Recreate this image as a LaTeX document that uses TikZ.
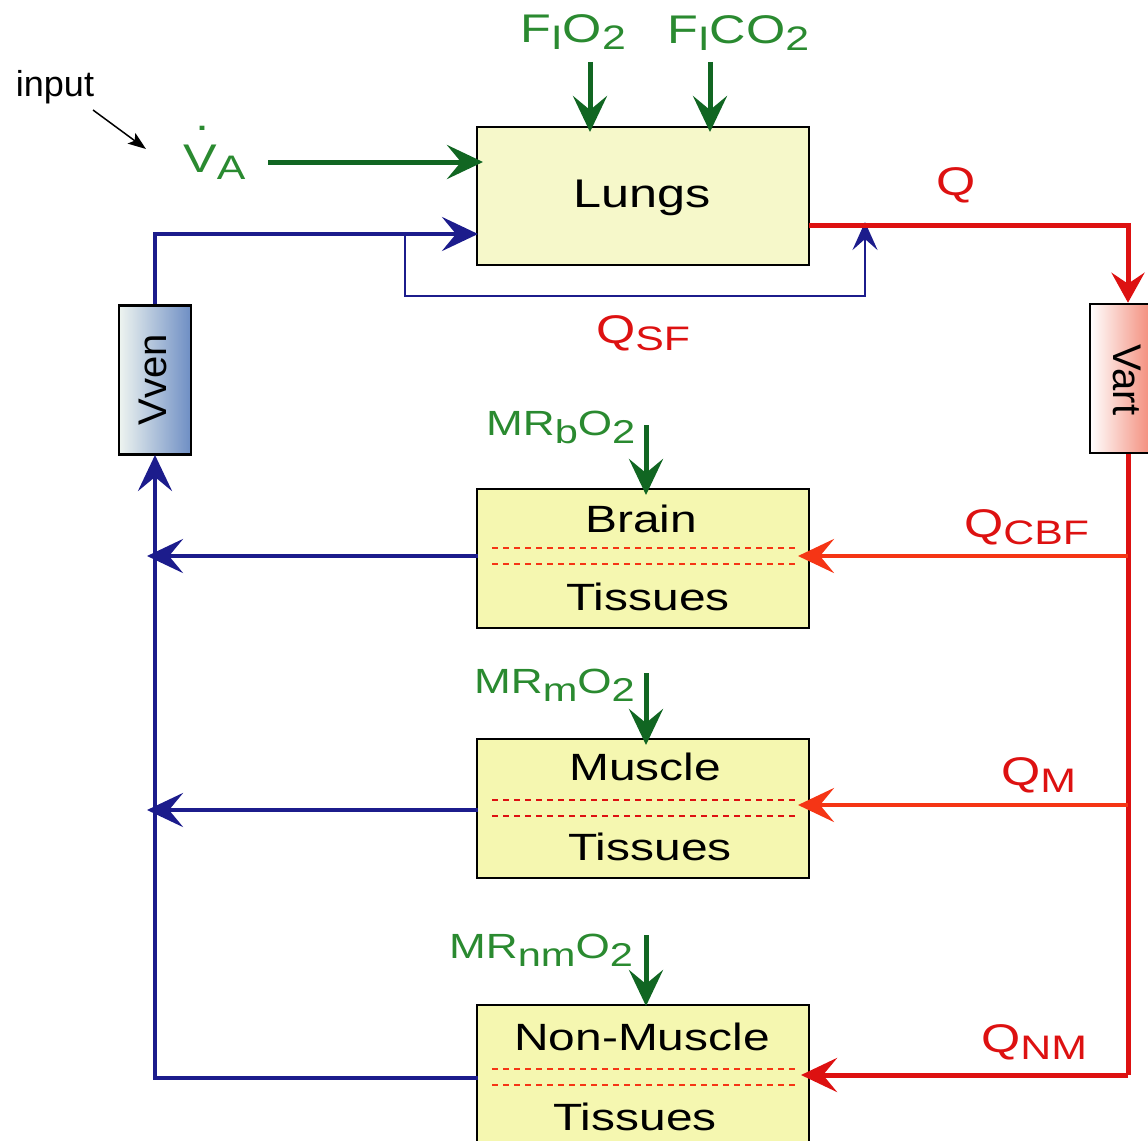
\documentclass[tikz,border=0pt]{standalone}
\usepackage{fontspec}
\setmainfont[FakeStretch=1.26]{Liberation Sans}
\newfontfamily\plainsans{Liberation Sans}
\usetikzlibrary{arrows.meta}
\definecolor{txtgreen}{RGB}{42,138,48}
\definecolor{arrgreen}{RGB}{17,102,34}
\definecolor{navy}{RGB}{28,28,140}
\definecolor{mainred}{RGB}{221,17,17}
\definecolor{orred}{RGB}{245,53,21}
\definecolor{lungfill}{RGB}{246,248,202}
\definecolor{tisfill}{RGB}{245,247,176}
\definecolor{venL}{RGB}{238,244,240}
\definecolor{venM}{RGB}{214,226,232}
\definecolor{venR}{RGB}{110,142,196}
\definecolor{artM}{RGB}{252,214,206}
\definecolor{artR}{RGB}{240,112,90}
\newcommand\lsub[1]{\raisebox{-7pt}{\fontsize{34}{34}\selectfont #1}}
\newcommand\msub[1]{\raisebox{-8pt}{\fontsize{33}{33}\selectfont #1}}
\tikzset{
  arr/.style={-{Stealth[length=36pt,width=34pt,inset=14pt]}},
  organ/.style={draw=black, line width=2.5pt, minimum width=332pt, inner sep=0pt},
  boxtext/.style={inner sep=0pt, anchor=base, font=\fontsize{38}{40}\selectfont},
  glabel/.style={inner sep=0pt, anchor=base west, text=txtgreen},
  rlabel/.style={inner sep=0pt, anchor=base west, text=mainred, font=\fontsize{40}{44}\selectfont},
  gline/.style={draw=arrgreen, line width=5pt, arr},
  bline/.style={draw=navy, line width=4.5pt},
  rline/.style={draw=mainred, line width=5pt},
  oline/.style={draw=orred, line width=4.5pt},
  dline/.style={draw=orred, line width=1.5pt, dash pattern=on 6pt off 5pt},
}
\begin{document}
\begin{tikzpicture}[x=1pt,y=-1pt]
\useasboundingbox (0,0) rectangle (1148,1140);
\clip (0,0) rectangle (1148,1140);

% ---- organ boxes
\node[organ, fill=lungfill, minimum height=138pt] (lungs) at (643,196) {};
\node[organ, fill=tisfill, minimum height=139pt] (brain) at (643,558.5) {};
\node[organ, fill=tisfill, minimum height=139pt] (muscle) at (643,808.5) {};
\node[organ, fill=tisfill, minimum height=150pt] (nonmuscle) at (643,1080) {};

\node[boxtext, font=\fontsize{40}{44}\selectfont] (lungstxt) at (642,207) {Lungs};
\node[boxtext] (braintxt) at (641,532) {Brain};
\node[boxtext] (braintis) at (648,610) {Tissues};
\node[boxtext] (muscletxt) at (645,780) {Muscle};
\node[boxtext] (muscletis) at (650,860) {Tissues};
\node[boxtext] (nmtxt) at (642,1050) {Non-Muscle};
\node[boxtext] (nmtis) at (635,1130) {Tissues};

% dashed separators
\draw[dline] (492,548) -- (795,548);
\draw[dline] (492,564) -- (795,564);
\draw[dline, draw=mainred] (492,800) -- (795,800);
\draw[dline, draw=mainred] (492,816) -- (795,816);
\draw[dline] (492,1069) -- (795,1069);
\draw[dline] (492,1085) -- (795,1085);

% ---- volume boxes
\node[draw=black, line width=2.5pt, minimum width=72pt, minimum height=149pt,
      left color=venL, middle color=venM, right color=venR, inner sep=0pt] (vven) at (155,380) {};
\node[rotate=90, inner sep=0pt, font=\plainsans\fontsize{40}{42}\selectfont] (vventxt) at (153,380) {Vven};
\node[draw=black, line width=2.5pt, minimum width=76pt, minimum height=149pt,
      left color=white, middle color=artM, right color=artR, inner sep=0pt] (vart) at (1128,378.5) {};
\node[rotate=-90, inner sep=0pt, font=\plainsans\fontsize{40}{42}\selectfont] (varttxt) at (1127,380) {Vart};

% ---- labels
\node[inner sep=0pt, font=\plainsans\fontsize{36}{38}\selectfont] (input) at (55,87) {input};
\node[glabel, font=\fontsize{40}{44}\selectfont] (va) at (183,172)
  {\makebox[0pt][l]{\hspace{12pt}\raisebox{42pt}{.}}V\lsub{A}};
\node[glabel, font=\fontsize{40}{44}\selectfont] (fio2) at (520,43) {F\lsub{I}O\lsub{2}};
\node[glabel, font=\fontsize{40}{44}\selectfont] (fico2) at (667,44) {F\lsub{I}CO\lsub{2}};
\node[glabel, font=\fontsize{35}{38}\selectfont] (mrb) at (486,435) {MR\msub{b}O\msub{2}};
\node[glabel, font=\fontsize{35}{38}\selectfont] (mrm) at (474,693) {MR\msub{m}O\msub{2}};
\node[glabel, font=\fontsize{35}{38}\selectfont] (mrnm) at (449,958) {MR\msub{nm}O\msub{2}};
\node[rlabel] (q) at (936,195) {Q};
\node[rlabel] (qsf) at (596,343) {Q\lsub{SF}};
\node[rlabel] (qcbf) at (964,537) {Q\lsub{CBF}};
\node[rlabel] (qm) at (1001,785) {Q\lsub{M}};
\node[rlabel] (qnm) at (981,1052) {Q\lsub{NM}};

% ---- named coordinates
\coordinate (inS) at (93,110);
\coordinate (inE) at (146,149);
\coordinate (vaS) at (268,162);
\coordinate (lungVA) at (483,162);
\coordinate (fioS) at (590,62);
\coordinate (lungF1) at (590,132);
\coordinate (ficoS) at (710,62);
\coordinate (lungF2) at (710,132);
\coordinate (mrbS) at (646,425);
\coordinate (brainTop) at (646,495);
\coordinate (mrmS) at (646,673);
\coordinate (muscleTop) at (646,745);
\coordinate (mrnmS) at (646,935);
\coordinate (nmTop) at (646,1006);
\coordinate (venUp) at (155,234);
\coordinate (lungIn) at (478,234);
\coordinate (sfA) at (405,234);
\coordinate (sfB) at (405,296);
\coordinate (sfC) at (865,296);
\coordinate (sfD) at (865,222);
\coordinate (lungOut) at (809,225);
\coordinate (artCorner) at (1128,225);
\coordinate (artBottom) at (1128,1075);
\coordinate (brSplit) at (1128,556);
\coordinate (brIn) at (798,556);
\coordinate (muSplit) at (1128,805);
\coordinate (muIn) at (798,805);
\coordinate (nmIn) at (801,1075);
\coordinate (brOut) at (478,556);
\coordinate (brVen) at (147,556);
\coordinate (muOut) at (478,810);
\coordinate (muVen) at (147,810);
\coordinate (nmOut) at (478,1078);
\coordinate (venCorner) at (155,1078);
\coordinate (venBot) at (155,455);

% ---- connectors
\draw[line width=1.5pt, -{Stealth[length=18pt,width=13pt,inset=4pt]}] (inS) -- (inE);
\draw[gline] (vaS) -- (lungVA);
\draw[gline] (fioS) -- (lungF1);
\draw[gline] (ficoS) -- (lungF2);
\draw[gline] (mrbS) -- (brainTop);
\draw[gline] (mrmS) -- (muscleTop);
\draw[gline] (mrnmS) -- (nmTop);

\draw[bline, arr] (vven.north) -- (venUp) -- (lungIn);
\draw[draw=navy, line width=2.5pt, -{Stealth[length=28pt,width=25pt,inset=11pt]}] (sfA) -- (sfB) -- (sfC) -- (sfD);
\draw[bline, arr] (brOut) -- (brVen);
\draw[bline, arr] (muOut) -- (muVen);
\draw[bline, arr] (nmOut) -- (venCorner) -- (venBot);

\draw[rline, -{Stealth[length=30pt,width=33pt,inset=11pt]}] (lungOut) -- (artCorner) -- (vart.north);
\draw[rline] (vart.south) -- (artBottom);
\draw[rline, arr] (artBottom) -- (nmIn);
\draw[oline, arr] (brSplit) -- (brIn);
\draw[oline, arr] (muSplit) -- (muIn);
\end{tikzpicture}
\end{document}
